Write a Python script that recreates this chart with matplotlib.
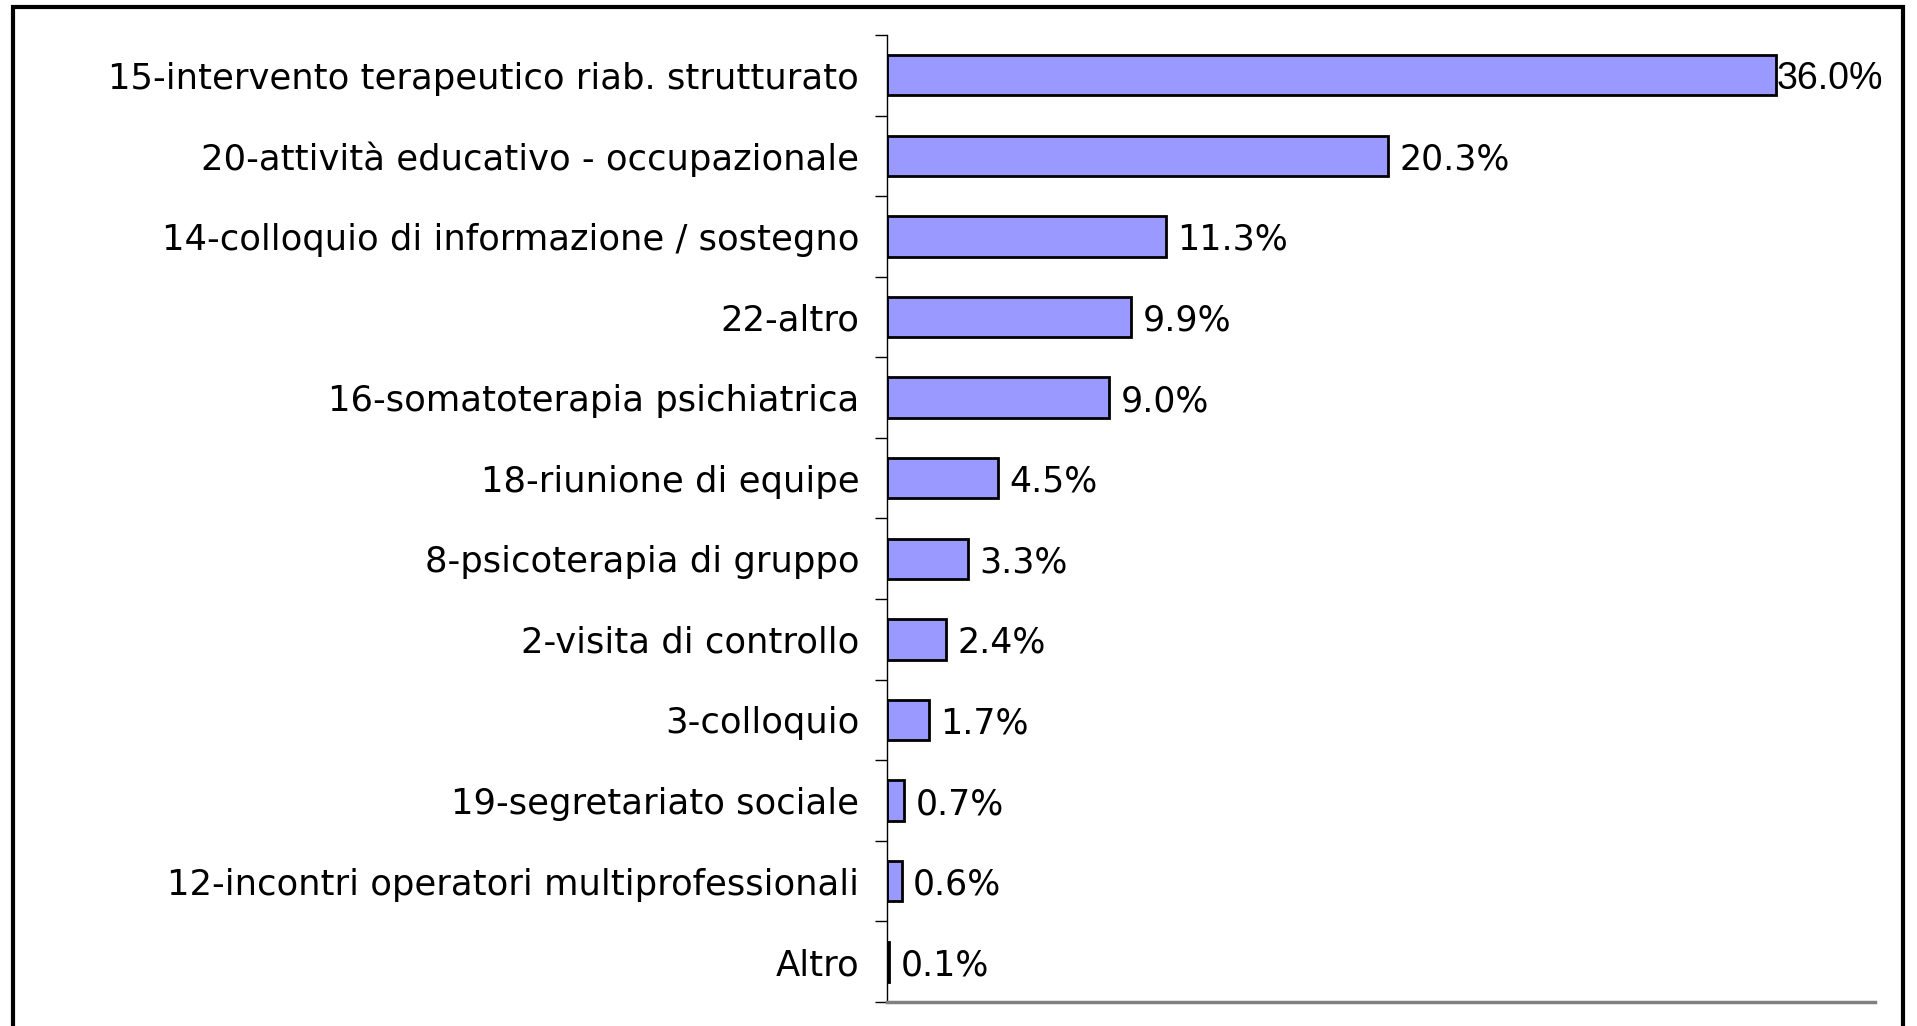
import matplotlib.pyplot as plt
import matplotlib.ticker as ticks
import numpy as np
from matplotlib.patches import Rectangle

categories = [
    "15-intervento terapeutico riab. strutturato",
    "20-attività educativo - occupazionale",
    "14-colloquio di informazione / sostegno",
    "22-altro",
    "16-somatoterapia psichiatrica",
    "18-riunione di equipe",
    "8-psicoterapia di gruppo",
    "2-visita di controllo",
    "3-colloquio",
    "19-segretariato sociale",
    "12-incontri operatori multiprofessionali",
    "Altro",
]
values = [36.0, 20.3, 11.3, 9.9, 9.0, 4.5, 3.3, 2.4, 1.7, 0.7, 0.6, 0.1]
value_labels = ["36.0%", "20.3%", "11.3%", "9.9%", "9.0%", "4.5%",
                "3.3%", "2.4%", "1.7%", "0.7%", "0.6%", "0.1%"]


def drawChart():
    fig = plt.figure(figsize=(19.17, 10.26), dpi=100)
    ax = fig.add_axes([0.4627, 0.0234, 0.978 - 0.4627, 0.9659 - 0.0234])

    pos = np.arange(len(categories))
    ax.barh(pos, values, height=0.5, color="#9999FF", edgecolor="black", linewidth=2)
    ax.set_ylim(len(categories) - 0.5, -0.5)
    ax.set_xlim(0, 40)

    ax.set_yticks(pos)
    ax.set_yticklabels(categories, fontsize=25.5, family="DejaVu Sans")
    ax.yaxis.set_minor_locator(ticks.FixedLocator(np.arange(-0.5, len(categories), 1.0)))
    ax.tick_params(axis="y", which="major", length=0, pad=20)
    ax.tick_params(axis="y", which="minor", length=9, width=1, color="black")
    ax.set_xticks([])

    for side in ["top", "right"]:
        ax.spines[side].set_visible(False)
    ax.spines["left"].set_linewidth(1)
    ax.spines["bottom"].set_color("#808080")
    ax.spines["bottom"].set_linewidth(2.5)

    for i, (v, lab) in enumerate(zip(values, value_labels)):
        if i == 0:
            ax.text(v + 0.02, i, lab, va="center_baseline", ha="left", fontsize=27,
                    family=["Liberation Sans Narrow", "Liberation Sans"])
        else:
            ax.text(v + 0.45, i, lab, va="center_baseline", ha="left", fontsize=25,
                    family="DejaVu Sans")

    fig.patches.append(Rectangle((13 / 1917, -0.05), (1903 - 13) / 1917, 1.05 - 7 / 1026,
                                 transform=fig.transFigure, fill=False,
                                 edgecolor="black", linewidth=3))
    fig.savefig("out.png", dpi=100, facecolor="white")


def main():
    drawChart()


if __name__ == "__main__":
    main()
